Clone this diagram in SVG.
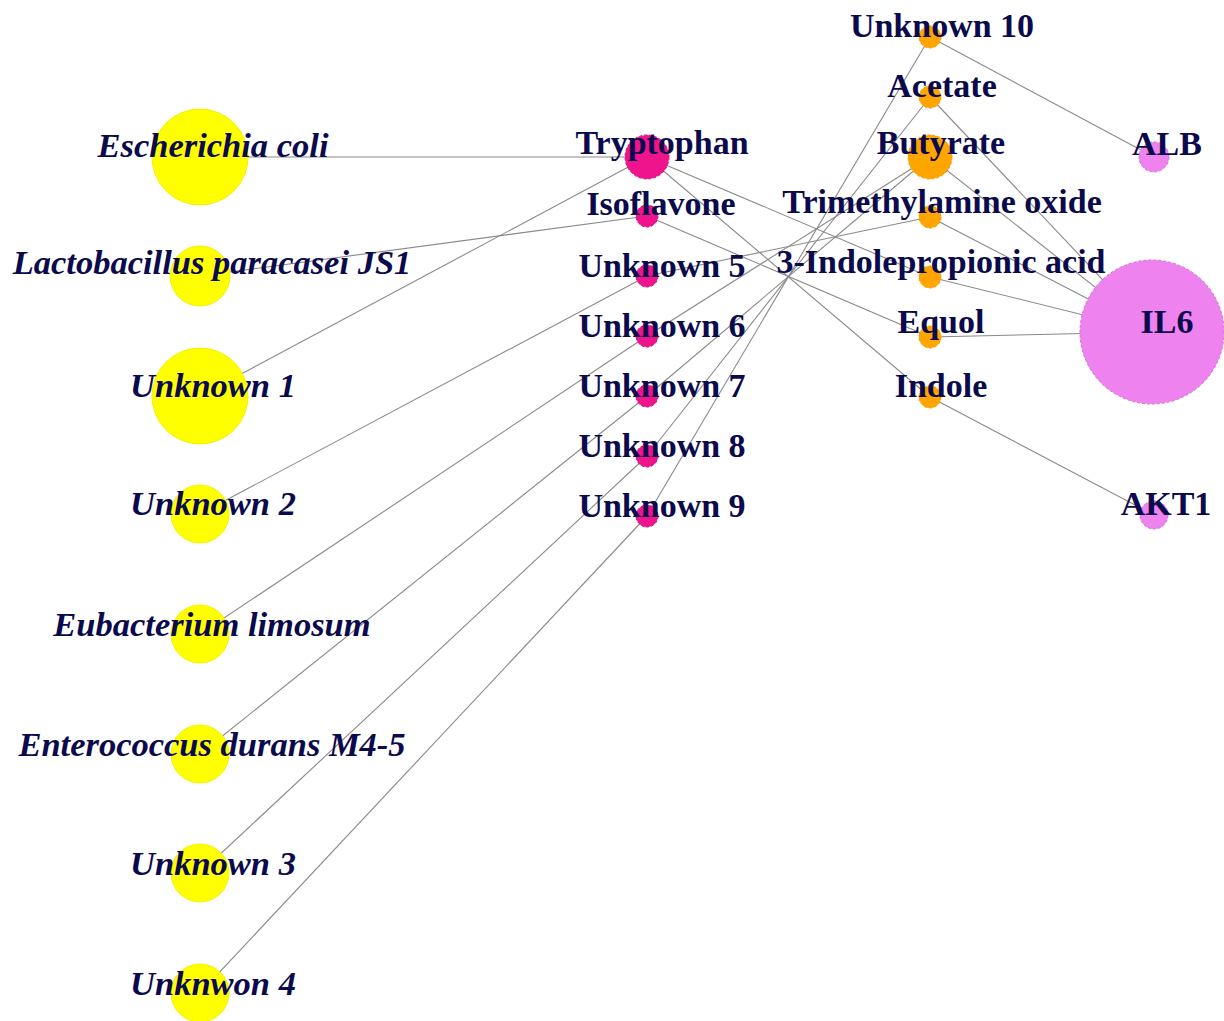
<svg xmlns="http://www.w3.org/2000/svg" width="1224" height="1021" viewBox="0 0 1224 1021">
<style>
.e{stroke:#8a8a8a;stroke-width:1.1;fill:none}
.y{fill:#ffff00;stroke:#f2f200;stroke-width:1}
.m{fill:#f0148c;stroke:#d0107a;stroke-width:1;stroke-dasharray:3 2}
.o{fill:#ffa500;stroke:#f0a000;stroke-width:1;stroke-dasharray:3 2}
.p{fill:#ee82ee;stroke:#d070d0;stroke-width:1;stroke-dasharray:3 2}
text{font-family:"Liberation Serif","Times New Roman",serif;font-weight:bold;fill:#0a0a4c;text-anchor:middle}
.l{font-size:34.5px;font-style:italic}
.c{font-size:34px}
</style>
<rect width="1224" height="1021" fill="#ffffff"/>
<g id="edges">
<line class="e" x1="200" y1="157" x2="647" y2="157"/>
<line class="e" x1="200" y1="276" x2="647" y2="216"/>
<line class="e" x1="200" y1="396" x2="647" y2="157"/>
<line class="e" x1="200" y1="514" x2="647" y2="276"/>
<line class="e" x1="200" y1="634" x2="647" y2="336"/>
<line class="e" x1="200" y1="754" x2="647" y2="396"/>
<line class="e" x1="200" y1="873" x2="647" y2="456"/>
<line class="e" x1="200" y1="993" x2="647" y2="516"/>
<line class="e" x1="647" y1="157" x2="930" y2="277"/>
<line class="e" x1="647" y1="157" x2="930" y2="397"/>
<line class="e" x1="647" y1="216" x2="930" y2="337"/>
<line class="e" x1="647" y1="276" x2="930" y2="217"/>
<line class="e" x1="647" y1="336" x2="930" y2="157"/>
<line class="e" x1="647" y1="396" x2="930" y2="157"/>
<line class="e" x1="647" y1="456" x2="930" y2="97"/>
<line class="e" x1="647" y1="516" x2="930" y2="37"/>
<line class="e" x1="930" y1="37" x2="1154" y2="157"/>
<line class="e" x1="930" y1="97" x2="1152" y2="332"/>
<line class="e" x1="930" y1="157" x2="1152" y2="332"/>
<line class="e" x1="930" y1="217" x2="1152" y2="332"/>
<line class="e" x1="930" y1="277" x2="1152" y2="332"/>
<line class="e" x1="930" y1="337" x2="1152" y2="332"/>
<line class="e" x1="930" y1="397" x2="1154" y2="515"/>
</g>
<g id="n-ecoli"><circle class="y" cx="200" cy="157" r="48"/><text class="l" x="213" y="157">Escherichia coli</text></g>
<g id="n-lacto"><circle class="y" cx="200" cy="276" r="30"/><text class="l" x="212" y="274">Lactobacillus paracasei JS1</text></g>
<g id="n-unk1"><circle class="y" cx="200" cy="396" r="48"/><text class="l" x="213" y="397">Unknown 1</text></g>
<g id="n-unk2"><circle class="y" cx="200" cy="514" r="29"/><text class="l" x="213" y="515">Unknown 2</text></g>
<g id="n-eubac"><circle class="y" cx="200" cy="634" r="29"/><text class="l" x="212" y="636">Eubacterium limosum</text></g>
<g id="n-entero"><circle class="y" cx="200" cy="754" r="29"/><text class="l" x="212" y="756">Enterococcus durans M4-5</text></g>
<g id="n-unk3"><circle class="y" cx="200" cy="873" r="29"/><text class="l" x="213" y="875">Unknown 3</text></g>
<g id="n-unk4"><circle class="y" cx="200" cy="993" r="29"/><text class="l" x="213" y="995">Unknwon 4</text></g>
<g id="n-tryp"><circle class="m" cx="647" cy="157" r="22"/><text class="c" x="662" y="154">Tryptophan</text></g>
<g id="n-iso"><circle class="m" cx="647" cy="216" r="11"/><text class="c" x="661" y="215">Isoflavone</text></g>
<g id="n-unk5"><circle class="m" cx="647" cy="276" r="11"/><text class="c" x="662" y="277">Unknown 5</text></g>
<g id="n-unk6"><circle class="m" cx="647" cy="336" r="11"/><text class="c" x="662" y="337">Unknown 6</text></g>
<g id="n-unk7"><circle class="m" cx="647" cy="396" r="11"/><text class="c" x="662" y="397">Unknown 7</text></g>
<g id="n-unk8"><circle class="m" cx="647" cy="456" r="11"/><text class="c" x="662" y="457">Unknown 8</text></g>
<g id="n-unk9"><circle class="m" cx="647" cy="516" r="11"/><text class="c" x="662" y="517">Unknown 9</text></g>
<g id="n-unk10"><circle class="o" cx="930" cy="37" r="11"/><text class="c" x="942" y="37">Unknown 10</text></g>
<g id="n-acetate"><circle class="o" cx="930" cy="97" r="11"/><text class="c" x="942" y="97">Acetate</text></g>
<g id="n-butyrate"><circle class="o" cx="930" cy="157" r="22"/><text class="c" x="941" y="154">Butyrate</text></g>
<g id="n-tmao"><circle class="o" cx="930" cy="217" r="11"/><text class="c" x="942" y="213">Trimethylamine oxide</text></g>
<g id="n-ipa"><circle class="o" cx="930" cy="277" r="11"/><text class="c" x="941" y="273">3-Indolepropionic acid</text></g>
<g id="n-equol"><circle class="o" cx="930" cy="337" r="11"/><text class="c" x="941" y="333">Equol</text></g>
<g id="n-indole"><circle class="o" cx="930" cy="397" r="11"/><text class="c" x="941" y="397">Indole</text></g>
<g id="n-alb"><circle class="p" cx="1154" cy="157" r="15"/><text class="c" x="1167" y="155">ALB</text></g>
<g id="n-il6"><circle class="p" cx="1152" cy="332" r="72"/><text class="c" x="1167" y="333">IL6</text></g>
<g id="n-akt1"><circle class="p" cx="1154" cy="515" r="14"/><text class="c" x="1166" y="515">AKT1</text></g>
</svg>
